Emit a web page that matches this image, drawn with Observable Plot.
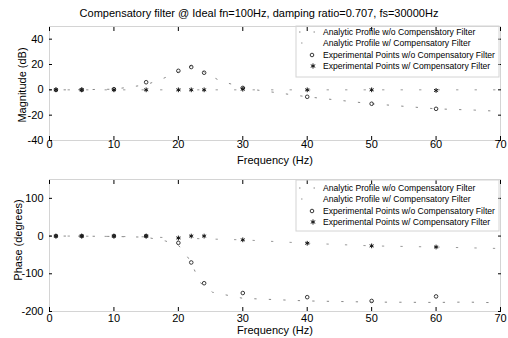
<!DOCTYPE html>
<html><head><meta charset="utf-8">
<script src="https://cdn.jsdelivr.net/npm/d3@7"></script>
<script src="https://cdn.jsdelivr.net/npm/@observablehq/plot@0.6"></script>
<style>
body{margin:0;background:#fff;}
#c{position:relative;width:508px;height:338px;font-family:"Liberation Sans",Arial,sans-serif;color:#000;overflow:hidden;background:#fff}
.abs{position:absolute;white-space:nowrap}
</style></head><body><div id="c"></div>
<script>
const title = "Compensatory filter @ Ideal fn=100Hz, damping ratio=0.707, fs=30000Hz";
const xLabel = "Frequency (Hz)";
const magLabel = "Magnitude (dB)";
const phaseLabel = "Phase (degrees)";
const legendLabels = [
  "Analytic Profile w/o Compensatory Filter",
  "Analytic Profile w/ Compensatory Filter",
  "Experimental Points w/o Compensatory Filter",
  "Experimental Points w/ Compensatory Filter"
];
const xTicks = [0, 10, 20, 30, 40, 50, 60, 70];
const magTicks = [-40, -20, 0, 20, 40];
const phaseTicks = [-200, -100, 0, 100];
const xDomain = [0, 70];
const magDomain = [-40, 50];
const phaseDomain = [-200, 150];

// experimental points
const expFreq = [1, 5, 10, 15, 20, 22, 24, 30, 40, 50, 60];
const magExpWo = [0, 0, 0.5, 6, 15, 18, 13.5, 1.5, -5.5, -11, -15];
const magExpW = [0, 0, 0, 0, 0, 0, 0, 0.5, 0, 0, -0.5];
const phaseExpWo = [0, 0, 0, 0, -18, -70, -125, -151, -162, -172, -160];
const phaseExpW = [0, 0, 0, 0, -5, 0, 0, -10, -19, -26, -29];

// analytic profiles (faint in the scan)
const magAnaFreq = [0, 3.4, 10, 15, 17.5, 20, 22, 23, 24, 26.5, 30, 32, 40, 50, 60, 66, 70];
const magAnaWo = [0, 0, 0.5, 4, 8.7, 14, 19, 18, 14, 7, 2, 0, -5.5, -11, -15, -16, -17];
const magAnaW = [0, 0, 0, 0, 0, 0, 0, 0, 0, 0, 0, 0, 0, 0, 0, 0, 0];
const phaseAnaFreq = [0, 3.4, 10, 15, 18, 20, 20.6, 22, 23.3, 25.3, 30, 40, 50, 60, 64.7, 70];
const phaseAnaWo = [0, 0, -1, -3, -13, -25, -34, -70, -122, -149, -165, -172, -175, -176, -175, -177];
const phaseAnaW = [0, 0, -1, -2, -4, -5, -5, -6, -7, -8, -10, -19, -26, -29, -31, -33];

const zip = (xs, ys) => xs.map((x, i) => ({x, y: ys[i]}));
const fmt = d => String(d);
const frameColor = "#d4d4d4";

function panel({height, mt, mb, yDomain, yTicks, anaF, anaWo, anaW, expWo, expW, xPad}) {
  return Plot.plot({
    width: 508, height,
    marginLeft: 49, marginRight: 8, marginTop: mt, marginBottom: mb,
    style: {fontFamily: "'Liberation Sans', Arial, sans-serif", fontSize: "11px", background: "transparent", overflow: "visible", color: "#000"},
    x: {domain: xDomain, label: null},
    y: {domain: yDomain, label: null},
    marks: [
      Plot.frame({stroke: frameColor, strokeWidth: 1}),
      Plot.line(zip(anaF, anaWo), {x: "x", y: "y", stroke: "#888", strokeWidth: 1, strokeDasharray: "1.5,13"}),
      Plot.line(zip(anaF, anaW), {x: "x", y: "y", stroke: "#999", strokeWidth: 1, strokeDasharray: "1.5,17"}),
      Plot.dot(zip(expFreq, expWo), {x: "x", y: "y", r: 1.8, symbol: "circle", stroke: "#222", strokeWidth: 0.9, fill: "none"}),
      Plot.dot(zip(expFreq, expW), {x: "x", y: "y", r: 2.2, symbol: "asterisk", stroke: "#111", strokeWidth: 1}),
      Plot.axisX({anchor: "bottom", ticks: xTicks, tickSize: -4, tickPadding: xPad, tickFormat: fmt, label: null}),
      Plot.axisX({anchor: "top", ticks: xTicks, tickSize: -4, tickFormat: () => "", label: null}),
      Plot.axisY({anchor: "left", ticks: yTicks, tickSize: -3, tickPadding: 9, tickFormat: fmt, label: null}),
      Plot.axisY({anchor: "right", ticks: yTicks, tickSize: -3, tickFormat: () => "", label: null})
    ]
  });
}

const c = document.getElementById("c");
function addDiv(text, css) {
  const d = document.createElement("div");
  d.className = "abs";
  d.textContent = text;
  Object.assign(d.style, css);
  c.appendChild(d);
  return d;
}

addDiv(title, {left: "259px", top: "13px", transform: "translate(-50%,-50%)", fontSize: "11px"});

const magPlot = panel({height: 147, mt: 8, mb: 25, yDomain: magDomain, yTicks: magTicks,
  anaF: magAnaFreq, anaWo: magAnaWo, anaW: magAnaW, expWo: magExpWo, expW: magExpW, xPad: 4});
magPlot.style.position = "absolute"; magPlot.style.left = "0px"; magPlot.style.top = "18px";
c.appendChild(magPlot);

const phasePlot = panel({height: 173, mt: 14, mb: 27, yDomain: phaseDomain, yTicks: phaseTicks,
  anaF: phaseAnaFreq, anaWo: phaseAnaWo, anaW: phaseAnaW, expWo: phaseExpWo, expW: phaseExpW, xPad: 7});
phasePlot.style.position = "absolute"; phasePlot.style.left = "0px"; phasePlot.style.top = "165px";
c.appendChild(phasePlot);

addDiv(xLabel, {left: "275px", top: "160px", transform: "translate(-50%,-50%)", fontSize: "11px"});
addDiv(xLabel, {left: "275px", top: "330px", transform: "translate(-50%,-50%)", fontSize: "11px"});
addDiv(magLabel, {left: "22px", top: "85px", transform: "translate(-50%,-50%) rotate(-90deg)", fontSize: "11px"});
addDiv(phaseLabel, {left: "18px", top: "240px", transform: "translate(-50%,-50%) rotate(-90deg)", fontSize: "11px"});

// legends
const ov = d3.select(c).append("svg")
  .attr("width", 508).attr("height", 338)
  .style("position", "absolute").style("left", "0px").style("top", "0px");
function legend(boxTop, rows) {
  ov.append("rect").attr("x", 296).attr("y", boxTop).attr("width", 203).attr("height", rows[3] - rows[0] + 17)
    .attr("fill", "none").attr("stroke", frameColor);
  legendLabels.forEach((lab, i) => {
    const y = rows[i];
    if (i === 0) ov.append("line").attr("x1", 299).attr("x2", 318).attr("y1", y).attr("y2", y)
      .attr("stroke", "#888").attr("stroke-dasharray", "1.5,13");
    if (i === 1) ov.append("line").attr("x1", 301).attr("x2", 318).attr("y1", y).attr("y2", y)
      .attr("stroke", "#999").attr("stroke-dasharray", "1.5,17");
    if (i === 2) ov.append("circle").attr("cx", 312).attr("cy", y).attr("r", 1.8)
      .attr("fill", "none").attr("stroke", "#222").attr("stroke-width", 0.9);
    if (i === 3) ov.append("path").attr("d", d3.symbol(d3.symbolAsterisk, 18)())
      .attr("transform", `translate(313,${y})`).attr("fill", "none").attr("stroke", "#111");
    ov.append("text").attr("x", 323).attr("y", y).attr("dy", "0.35em")
      .attr("font-size", "8.6px").attr("font-family", "'Liberation Sans', Arial, sans-serif")
      .text(lab);
  });
}
legend(26, [32, 43, 55, 66]);
legend(180, [188, 199, 211, 222]);
</script></body></html>
